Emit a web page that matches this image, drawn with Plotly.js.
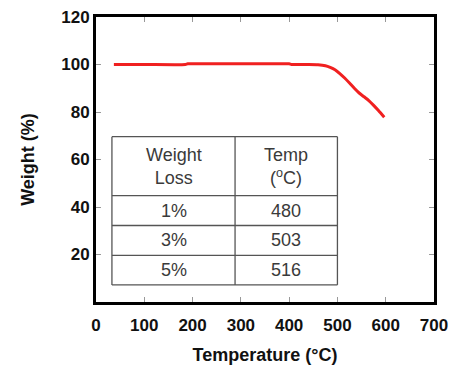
<!DOCTYPE html>
<html><head><meta charset="utf-8">
<script src="https://cdn.plot.ly/plotly-3.0.1.min.js"></script>
<style>html,body{margin:0;padding:0;background:#fff}</style>
</head><body>
<div id="chart" style="width:449px;height:373px"></div>
<script>
// TGA curve
const temperature = [37, 100, 185, 190, 250, 300, 350, 400, 405, 440, 460, 475, 485, 495, 505, 515, 525, 535, 545, 555, 565, 575, 585, 597];
const weight      = [100, 100, 100, 100.3, 100.3, 100.3, 100.3, 100.3, 100, 100, 99.9, 99.5, 98.8, 97.8, 96.2, 94.3, 92.2, 90.0, 88.0, 86.4, 84.8, 82.8, 80.6, 77.8];
// Table contents
const tableHeader = ["Weight<br>Loss", "Temp<br>(<sup>o</sup>C)"];
const weightLoss = ["1%", "3%", "5%"];
const tempAtLoss = ["480", "503", "516"];

// table geometry in data units
const colEdges = [33, 288, 500];
const rowEdges = [69.6, 44.8, 32.2, 19.6, 7.2];

const shapes = [];
const lineStyle = {color: '#555', width: 1.3};
rowEdges.forEach(y => shapes.push({type:'line', xref:'x', yref:'y', x0:colEdges[0], x1:colEdges[2], y0:y, y1:y, line:lineStyle}));
colEdges.forEach(x => shapes.push({type:'line', xref:'x', yref:'y', x0:x, x1:x, y0:rowEdges[0], y1:rowEdges[rowEdges.length-1], line:lineStyle}));

const annotations = [];
const tfont = {family:'Liberation Sans, Arial, sans-serif', size:18, color:'#3a3a3a'};
const cx = [(colEdges[0]+colEdges[1])/2, (colEdges[1]+colEdges[2])/2];
tableHeader.forEach((t,i) => annotations.push({xref:'x', yref:'y', x:cx[i], y:(rowEdges[0]+rowEdges[1])/2, text:t, showarrow:false, font:tfont}));
weightLoss.forEach((t,i) => {
  const yc = (rowEdges[i+1]+rowEdges[i+2])/2;
  annotations.push({xref:'x', yref:'y', x:cx[0], y:yc, text:t, showarrow:false, font:tfont});
  annotations.push({xref:'x', yref:'y', x:cx[1], y:yc, text:tempAtLoss[i], showarrow:false, font:tfont});
});

const axisFont = {family:'Liberation Sans, Arial, sans-serif', size:17, color:'#111', weight:'bold'};
const titleFont = {family:'Liberation Sans, Arial, sans-serif', size:18, color:'#111', weight:'bold'};

Plotly.newPlot('chart', [{
  x: temperature, y: weight, type:'scatter', mode:'lines',
  line:{color:'#f02020', width:3, shape:'spline', smoothing:0.6}, hoverinfo:'skip'
}], {
  width:449, height:373,
  margin:{l:96, r:15, t:17, b:71},
  paper_bgcolor:'#fff', plot_bgcolor:'#fff',
  showlegend:false,
  xaxis:{range:[0,700], dtick:100, tick0:0, showgrid:false, zeroline:false,
    showline:true, mirror:'ticks', linecolor:'#000', linewidth:3,
    ticks:'inside', ticklen:5, tickcolor:'#999', tickwidth:1, ticklabelstandoff:6,
    tickfont:axisFont, title:{text:'Temperature (°C)', font:titleFont, standoff:14}},
  yaxis:{range:[0,120], dtick:20, tick0:0, showgrid:false, zeroline:false,
    showline:true, mirror:'ticks', linecolor:'#000', linewidth:3,
    ticks:'inside', ticklen:5, tickcolor:'#999', tickwidth:1,
    tickvals:[20,40,60,80,100,120],
    tickfont:axisFont, title:{text:'Weight (%)', font:titleFont, standoff:22}},
  shapes: shapes,
  annotations: annotations
}, {displayModeBar:false, staticPlot:true});
</script>
</body></html>
